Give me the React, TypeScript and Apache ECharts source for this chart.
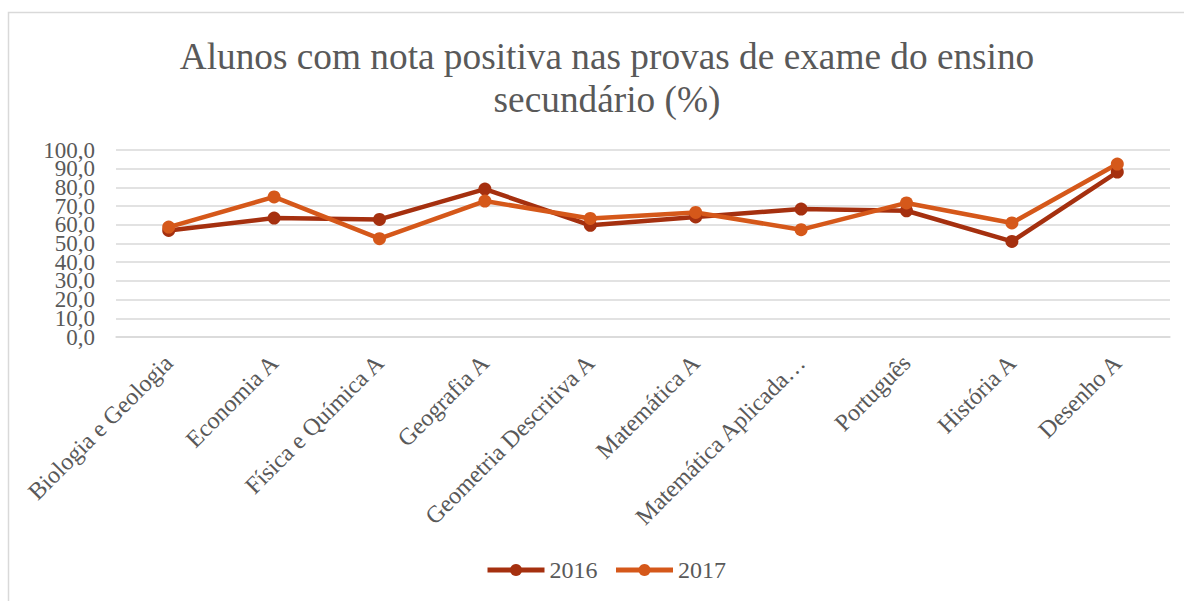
import React, { useEffect, useRef } from "react";
import * as echarts from "echarts";

const categories = [
  "Biologia e Geologia",
  "Economia A",
  "Física e Química A",
  "Geografia A",
  "Geometria Descritiva A",
  "Matemática A",
  "Matemática Aplicada…",
  "Português",
  "História A",
  "Desenho A",
];
const values2016 = [57.0, 63.6, 62.9, 79.1, 59.7, 64.2, 68.4, 67.5, 51.1, 88.2];
const values2017 = [58.8, 74.9, 52.6, 72.7, 63.4, 66.6, 57.4, 71.7, 61.0, 92.5];
const seriesNames = ["2016", "2017"];
const titleText = "Alunos com nota positiva nas provas de exame do ensino\nsecundário (%)";

const FONT = "Liberation Serif";
const TEXT = "#595959";

const fmt = (v: number) => v.toFixed(1).replace(".", ",");

export default function App() {
  const ref = useRef<HTMLDivElement>(null);
  useEffect(() => {
    if (!ref.current) return;
    const chart = echarts.init(ref.current, null, { renderer: "svg" });
    const labelBase = {
      margin: 21,
      fontFamily: FONT,
      fontSize: 23,
      color: TEXT,
    };
    chart.setOption({
      animation: false,
      backgroundColor: "#ffffff",
      textStyle: { fontFamily: FONT },
      title: {
        text: titleText,
        left: 602,
        textAlign: "center",
        top: 30,
        textStyle: {
          fontFamily: FONT,
          fontSize: 37.3,
          fontWeight: "normal",
          color: TEXT,
          lineHeight: 43,
        },
      },
      graphic: [
        {
          type: "rect",
          shape: { x: 8.5, y: 12.5, width: 1400, height: 800 },
          style: { fill: "none", stroke: "#d9d9d9", lineWidth: 1.5 },
          silent: true,
        },
      ],
      legend: {
        bottom: 14,
        left: 480,
        itemWidth: 57,
        itemHeight: 15,
        itemGap: 16,
        lineStyle: { width: 5 },
        textStyle: { fontFamily: FONT, fontSize: 24, color: TEXT },
        data: seriesNames,
      },
      grid: { left: 116, right: 14, top: 150, bottom: 264, containLabel: false },
      xAxis: {
        type: "category",
        data: categories,
        boundaryGap: true,
        axisLine: { lineStyle: { color: "#d9d9d9", width: 1.5 } },
        axisTick: { show: false },
        axisLabel: {
          rotate: 45,
          interval: 0,
          margin: 22,
          fontFamily: FONT,
          fontSize: 24,
          color: TEXT,
        },
      },
      yAxis: [
        {
          type: "value",
          position: "left",
          min: 0,
          max: 100,
          interval: 10,
          axisLine: { show: false },
          axisTick: { show: false },
          splitLine: { lineStyle: { color: "#d9d9d9", width: 1.5 } },
          axisLabel: {
            ...labelBase,
            showMinLabel: false,
            showMaxLabel: false,
            formatter: (v: number) => (Math.round(v) % 20 === 10 ? fmt(v) : ""),
          },
        },
        {
          type: "value",
          position: "left",
          offset: 0,
          min: 0,
          max: 100,
          interval: 20,
          axisLine: { show: false },
          axisTick: { show: false },
          splitLine: { show: false },
          axisLabel: {
            ...labelBase,
            showMinLabel: true,
            showMaxLabel: true,
            formatter: (v: number) => fmt(v),
          },
        },
      ],
      series: [
        {
          name: seriesNames[0],
          type: "line",
          yAxisIndex: 0,
          data: values2016,
          symbol: "circle",
          symbolSize: 13,
          color: "#a5300f",
          lineStyle: { width: 4.5, color: "#a5300f" },
          itemStyle: { color: "#a5300f" },
        },
        {
          name: seriesNames[1],
          type: "line",
          yAxisIndex: 0,
          data: values2017,
          symbol: "circle",
          symbolSize: 13,
          color: "#d5581a",
          lineStyle: { width: 4.5, color: "#d5581a" },
          itemStyle: { color: "#d5581a" },
        },
      ],
    });
    return () => chart.dispose();
  }, []);
  return (
    <div
      ref={ref}
      style={{ position: "absolute", left: 0, top: 0, width: 1184, height: 601 }}
    />
  );
}
